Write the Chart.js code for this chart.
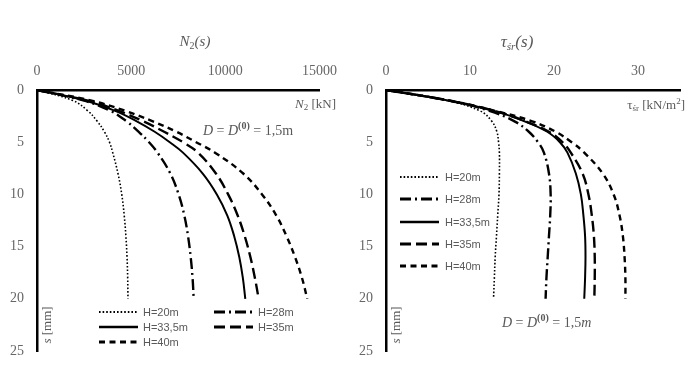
<!DOCTYPE html>
<html>
<head>
<meta charset="utf-8">
<script src="https://cdn.jsdelivr.net/npm/chart.js@4.4.0/dist/chart.umd.min.js"></script>
<style>
body { margin: 0; background: #fff; }
#wrap { position: relative; width: 695px; height: 391px; }
#left { position: absolute; left: 0; top: 0; }
#right { position: absolute; left: 347px; top: 0; }
</style>
</head>
<body>
<div id="wrap">
    <canvas id="left" width="347" height="391"></canvas>
    <canvas id="right" width="348" height="391"></canvas>
</div>
<script>
// settlement s [mm], shared by all curves
var settlement = [0, 1, 2, 3, 4, 5, 6, 8, 10, 12, 14, 16, 18, 20];
var seriesLabels = ["H=20m", "H=28m", "H=33,5m", "H=35m", "H=40m"];

// N2 [kN]
var forceH20  = [0, 1900, 2700, 3200, 3580, 3850, 4020, 4300, 4500, 4630, 4720, 4780, 4815, 4830];
var forceH28  = [0, 2450, 3900, 4750, 5400, 5950, 6400, 7080, 7520, 7820, 8020, 8160, 8260, 8320];
var forceH335 = [0, 2550, 4150, 5300, 6250, 7050, 7750, 8800, 9550, 10100, 10470, 10740, 10930, 11060];
var forceH35  = [0, 2650, 4350, 5650, 6750, 7750, 8550, 9500, 10150, 10650, 11030, 11330, 11570, 11770];
var forceH40  = [0, 2850, 4700, 6150, 7400, 8450, 9450, 10950, 11950, 12700, 13250, 13700, 14070, 14350];

// tau_sr [kN/m2]
var shearH20  = [0, 7.2, 11.2, 12.6, 13.2, 13.4, 13.5, 13.5, 13.45, 13.3, 13.15, 13.0, 12.9, 12.8];
var shearH28  = [0, 7.4, 12.3, 15.3, 17.0, 18.1, 18.8, 19.4, 19.6, 19.55, 19.4, 19.25, 19.1, 19.0];
var shearH335 = [0, 7.4, 12.9, 16.5, 19.2, 20.7, 21.6, 22.6, 23.2, 23.5, 23.7, 23.75, 23.7, 23.6];
var shearH35  = [0, 7.4, 12.9, 16.6, 19.4, 21.0, 22.0, 23.4, 24.1, 24.5, 24.75, 24.85, 24.85, 24.8];
var shearH40  = [0, 7.5, 13.0, 17.4, 20.2, 22.1, 23.6, 25.8, 27.1, 27.8, 28.2, 28.4, 28.5, 28.5];

var forceTicks = [0, 5000, 10000, 15000];
var shearTicks = [0, 10, 20, 30];
var settlementTicks = [0, 5, 10, 15, 20, 25];

var SERIF = "'Liberation Serif', 'DejaVu Serif', serif";
var SANS = "'Liberation Sans', Arial, sans-serif";
var GREY = "#595959";

// line look per series (same order as seriesLabels)
var lineStyles = [
    { dash: [1.6, 2], width: 1.6 },
    { dash: [11, 4, 2, 4], width: 2.4 },
    { dash: [], width: 2 },
    { dash: [11, 5], width: 2.4 },
    { dash: [6, 4.5], width: 2.4 }
];

function toPoints(values) {
    return values.map(function(v, i) { return { x: v, y: settlement[i] }; });
}

function buildDatasets(series) {
    return series.map(function(values, i) {
        return {
            label: seriesLabels[i],
            data: toPoints(values),
            borderColor: "#000",
            borderWidth: lineStyles[i].width,
            borderDash: lineStyles[i].dash,
            borderCapStyle: "butt",
            pointRadius: 0,
            tension: 0.4,
            fill: false
        };
    });
}

// draws a run of text pieces: [text, font, dy]
function drawRuns(ctx, x, y, runs, align) {
    var total = 0;
    runs.forEach(function(r) { ctx.font = r[1]; total += ctx.measureText(r[0]).width; });
    if (align == "center") x -= total / 2;
    if (align == "right") x -= total;
    ctx.textAlign = "left";
    ctx.textBaseline = "middle";
    runs.forEach(function(r) {
        ctx.font = r[1];
        ctx.fillText(r[0], x, y + (r[2] || 0));
        x += ctx.measureText(r[0]).width;
    });
}

function drawLegend(ctx, positions, textOffset) {
    positions.forEach(function(p, i) {
        ctx.save();
        ctx.strokeStyle = "#000";
        ctx.lineWidth = lineStyles[i].width + 0.4;
        ctx.setLineDash(lineStyles[i].dash);
        ctx.beginPath();
        ctx.moveTo(p[0], p[1]);
        ctx.lineTo(p[0] + 39, p[1]);
        ctx.stroke();
        ctx.restore();
        ctx.fillStyle = GREY;
        ctx.font = "11px " + SANS;
        ctx.textAlign = "left";
        ctx.textBaseline = "middle";
        ctx.fillText(seriesLabels[i], p[0] + textOffset, p[1] + 0.5);
    });
}

function plainTick(value) {
    return String(value);
}

function makeChart(id, series, xMax, xTicks, yAxisWidth, padRight, decorate) {
    var ctx = document.getElementById(id);
    return new Chart(ctx, {
        type: "line",
        data: { datasets: buildDatasets(series) },
        options: {
            responsive: false,
            animation: false,
            indexAxis: "y",
            layout: { padding: { left: 0, top: 0, right: padRight, bottom: 40 } },
            plugins: {
                legend: { display: false },
                tooltip: { enabled: false }
            },
            scales: {
                x: {
                    type: "linear",
                    position: "top",
                    min: 0,
                    max: xMax,
                    afterBuildTicks: function(s) { s.ticks = xTicks.map(function(v) { return { value: v }; }); },
                    afterFit: function(s) { s.height = 90; },
                    grid: { display: false, drawTicks: false },
                    border: { display: true, color: "#000", width: 2.5 },
                    ticks: { color: "#666", font: { family: SERIF, size: 14 }, padding: 10, maxRotation: 0, callback: plainTick }
                },
                y: {
                    type: "linear",
                    reverse: true,
                    min: 0,
                    max: 25,
                    afterBuildTicks: function(s) { s.ticks = settlementTicks.map(function(v) { return { value: v }; }); },
                    afterFit: function(s) { s.width = yAxisWidth; },
                    grid: { display: false, drawTicks: false },
                    border: { display: true, color: "#000", width: 2.5 },
                    ticks: { color: "#666", font: { family: SERIF, size: 14 }, padding: 13, callback: plainTick }
                }
            }
        },
        plugins: [{
            id: "texts",
            afterDraw: function(chart) {
                var c = chart.ctx;
                c.save();
                c.fillStyle = GREY;
                decorate(c);
                c.restore();
            }
        }]
    });
}

makeChart("left", [forceH20, forceH28, forceH335, forceH35, forceH40], 15000, forceTicks, 37, 27, function(c) {
    drawRuns(c, 195, 42, [["N", "italic 15px " + SERIF], ["2", "10px " + SERIF, 4], ["(s)", "italic 15px " + SERIF]], "center");
    drawRuns(c, 336, 105, [["N", "italic 13px " + SERIF], ["2", "9px " + SERIF, 3], [" [kN]", "13px " + SERIF]], "right");
    drawRuns(c, 203, 131, [["D", "italic 14px " + SERIF], [" = ", "14px " + SERIF], ["D", "italic 14px " + SERIF],
        ["(0)", "bold 10px " + SERIF, -5], [" = 1,5m", "14px " + SERIF]], "left");
    c.save();
    c.translate(48, 325);
    c.rotate(-Math.PI / 2);
    drawRuns(c, 0, 0, [["s", "italic 13px " + SERIF], [" [mm]", "13px " + SERIF]], "center");
    c.restore();
    drawLegend(c, [[99, 312], [214, 312], [99, 327], [214, 327], [99, 342]], 44);
});

makeChart("right", [shearH20, shearH28, shearH335, shearH35, shearH40], 35, shearTicks, 39, 15, function(c) {
    drawRuns(c, 170, 43, [["\u03c4", "italic 17px " + SERIF], ["\u015br", "italic 11px " + SERIF, 4], ["(s)", "italic 17px " + SERIF]], "center");
    drawRuns(c, 338, 106, [["\u03c4", "13px " + SERIF], ["\u015br", "9px " + SERIF, 3], [" [kN/m", "13px " + SERIF],
        ["2", "9px " + SERIF, -4], ["]", "13px " + SERIF]], "right");
    drawRuns(c, 155, 323, [["D", "italic 14px " + SERIF], [" = ", "14px " + SERIF], ["D", "italic 14px " + SERIF],
        ["(0)", "bold 10px " + SERIF, -5], [" = 1,5", "14px " + SERIF], ["m", "italic 14px " + SERIF]], "left");
    c.save();
    c.translate(50, 325);
    c.rotate(-Math.PI / 2);
    drawRuns(c, 0, 0, [["s", "italic 13px " + SERIF], [" [mm]", "13px " + SERIF]], "center");
    c.restore();
    drawLegend(c, [[53, 177], [53, 199], [53, 222], [53, 244], [53, 266]], 45);
});
</script>
</body>
</html>
